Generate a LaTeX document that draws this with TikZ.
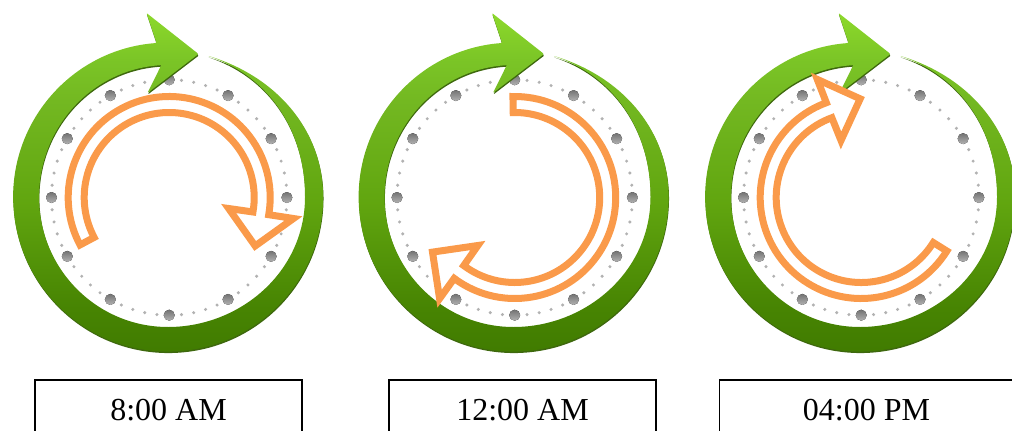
\documentclass[tikz,border=0pt]{standalone}
\usepackage{fontspec}
\setmainfont{Liberation Serif}
\usetikzlibrary{positioning}
\definecolor{cShade}{RGB}{62,104,14}
\definecolor{cHand}{RGB}{250,154,74}
\pgfdeclareverticalshading{ringfade}{100bp}{
	rgb(0bp)=(0.25,0.48,0); rgb(25bp)=(0.25,0.48,0);
	rgb(32.5bp)=(0.28,0.52,0.01); rgb(47.5bp)=(0.38,0.65,0.06);
	rgb(62bp)=(0.45,0.72,0.13); rgb(68bp)=(0.48,0.77,0.15);
	rgb(75bp)=(0.55,0.85,0.17); rgb(100bp)=(0.55,0.85,0.17)
}
\tikzset{
	ringbody/.style ={shading=ringfade, draw=none},
	ringshade/.style={fill=cShade, draw=none},
	hourdot/.style  ={top color=black!55, bottom color=black!30, draw=none},
	minutedot/.style={fill=black!30, draw=none},
	handband/.style ={draw=cHand, line width=7bp, fill=white, miter limit=10},
	timebox/.style  ={rectangle, draw=black, line width=1.2pt, minimum height=60bp, font=\fontsize{32bp}{36bp}\selectfont},
}
% outline of the green ring with its arrow head, centre at the origin
\newcommand{\ringpath}{
	(-11.5,154) arc[start angle=94.3, end angle=360, x radius=155, y radius=154.5]
	.. controls (155,70) and (105,122) .. (40.5,141)
	.. controls (98,122) and (137,70) .. (137,0)
	.. controls (137,-75) and (72,-130) .. (0,-130)
	arc[start angle=270, end angle=180, x radius=129, y radius=130]
	arc[start angle=180, end angle=93, x radius=129, y radius=132]
	[rounded corners=1pt] -- (-20.5,104) -- (30.5,143) -- (-21.5,184) -- cycle
}
\begin{document}
\begin{tikzpicture}[x=1bp, y=1bp]
	\clip (0,0) rectangle (1012,430);
	% one clock for each time of day
	\foreach \cx/\rot in {168/0, 513.5/-117, 860/-240}{
		\begin{scope}[shift={(\cx,233)}]
			% minute and hour marks
			\begin{scope}[shift={(1.2,-0.5)}]
				\foreach \ang in {0,6,...,354}{
					\fill[minutedot] (\ang:117.7) circle (1.7);
				}
				\foreach \ang in {0,30,...,330}{
					\fill[hourdot] (\ang:117.7) circle (5.5);
				}
			\end{scope}
			% green ring, shadow first
			\fill[ringshade, xshift=0.4, yshift=-1.5] \ringpath;
			\shade[ringbody] \ringpath;
			% orange hand
			\draw[handband, shift={(1.2,-0.5)}, rotate=\rot] (208:101) arc[start angle=208, end angle=-9.8, radius=101]
				-- (-9.6:126) -- (-29.4:98.7) -- (-10.5:60.5) -- (-9.8:85)
				arc[start angle=-9.8, end angle=208, radius=85] -- cycle;
		\end{scope}
	}
	% captions
	\node[timebox, minimum width=267bp] (morning) at (168.5,20) {8:00 AM};
	\node[timebox, minimum width=267bp] (noon) at (522.5,20) {12:00 AM};
	\node[timebox, minimum width=294bp] (evening) at (866.5,20) {04:00 PM};
\end{tikzpicture}
\end{document}
